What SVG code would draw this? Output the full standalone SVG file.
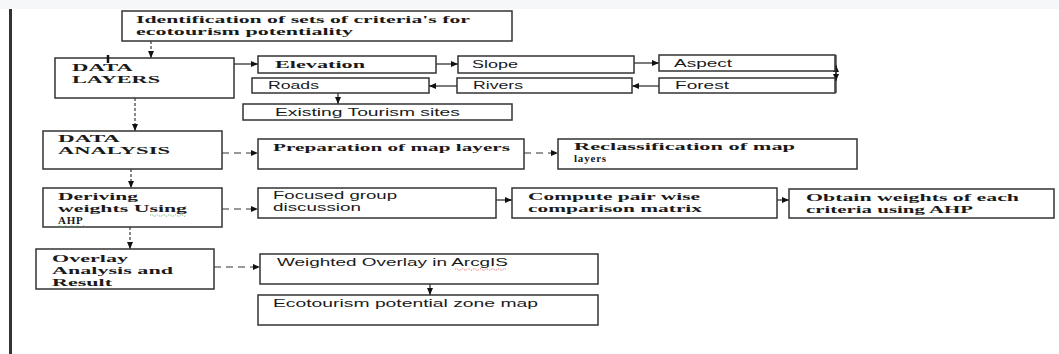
<svg xmlns="http://www.w3.org/2000/svg" width="1059" height="354" viewBox="0 0 1059 354">
<style>
.box{fill:#fff;stroke:#333;stroke-width:1.5}
.sr{font-family:"Liberation Serif",serif;font-weight:bold;font-size:11px;fill:#1a1a1a}
.ss{font-family:"Liberation Sans",sans-serif;font-size:10.5px;fill:#1a1a1a}
.c{fill:none;stroke:#222;stroke-width:1.2}
.d{fill:none;stroke:#555;stroke-width:1.4;stroke-dasharray:3 2}
.h{fill:none;stroke:#333;stroke-width:1.2;stroke-dasharray:7 5}
</style>
<defs>
<marker id="a" markerUnits="userSpaceOnUse" markerWidth="8" markerHeight="7" refX="7" refY="3" orient="auto"><path d="M0,0 L7,3 L0,6 z" fill="#111"/></marker>
</defs>
<rect x="0" y="0" width="1059" height="9" fill="#f6f7f9"/>
<rect x="0" y="9" width="1059" height="345" fill="#fff"/>
<line x1="10.5" y1="9" x2="10.5" y2="354" stroke="#333" stroke-width="3"/>

<g id="connectors">
<path class="d" d="M151,41 V58" marker-end="url(#a)"/>
<path class="c" d="M234,64 H258" marker-end="url(#a)"/>
<path class="c" d="M436,64 H458" marker-end="url(#a)"/>
<path class="c" d="M634,63 H659" marker-end="url(#a)"/>
<path class="c" d="M836,93 V65" marker-end="url(#a)"/>
<path class="c" d="M836,55 V81" marker-end="url(#a)"/>
<path class="c" d="M659,86 H632" marker-end="url(#a)"/>
<path class="c" d="M457,86 H429" marker-end="url(#a)"/>
<path class="c" d="M338,93 V104" marker-end="url(#a)"/>
<path class="d" d="M135,98 V131" marker-end="url(#a)"/>
<path class="h" d="M222,153 H258" marker-end="url(#a)"/>
<path class="h" d="M524,153 H558" marker-end="url(#a)"/>
<path class="d" d="M131,169 V188" marker-end="url(#a)"/>
<path class="h" d="M222,209 H258" marker-end="url(#a)"/>
<path class="c" d="M496,200 H512" marker-end="url(#a)"/>
<path class="c" d="M777,200 H789" marker-end="url(#a)"/>
<path class="d" d="M130,227 V249" marker-end="url(#a)"/>
<path class="h" d="M214,267 H260" marker-end="url(#a)"/>
<path class="c" d="M430,284 V295" marker-end="url(#a)"/>
</g>

<g id="criteria">
<rect class="box" x="122" y="11" width="390" height="30"/>
<text class="sr" x="136" y="23" textLength="334" lengthAdjust="spacingAndGlyphs">Identification of sets of criteria's for</text>
<text class="sr" x="136" y="35" textLength="217" lengthAdjust="spacingAndGlyphs">ecotourism potentiality</text>
</g>

<g id="data-layers">
<rect class="box" x="55" y="58" width="179" height="40"/>
<line x1="108" y1="55" x2="108" y2="63" stroke="#111" stroke-width="2.5"/>
<text class="sr" x="72" y="71" textLength="61" lengthAdjust="spacingAndGlyphs">DATA</text>
<text class="sr" x="72" y="83" textLength="88" lengthAdjust="spacingAndGlyphs">LAYERS</text>
</g>

<g id="elevation">
<rect class="box" x="258" y="56" width="178" height="17"/>
<text class="sr" x="275" y="68" textLength="90" lengthAdjust="spacingAndGlyphs">Elevation</text>
</g>
<g id="slope">
<rect class="box" x="458" y="56" width="176" height="17"/>
<text class="ss" x="472" y="68" textLength="46" lengthAdjust="spacingAndGlyphs">Slope</text>
</g>
<g id="aspect">
<rect class="box" x="659" y="55" width="176" height="16"/>
<text class="ss" x="674" y="67" textLength="58" lengthAdjust="spacingAndGlyphs">Aspect</text>
</g>
<g id="forest">
<rect class="box" x="659" y="78" width="176" height="15"/>
<text class="ss" x="675" y="89" textLength="54" lengthAdjust="spacingAndGlyphs">Forest</text>
</g>
<g id="rivers">
<rect class="box" x="457" y="78" width="175" height="15"/>
<text class="ss" x="473" y="89" textLength="50" lengthAdjust="spacingAndGlyphs">Rivers</text>
</g>
<g id="roads">
<rect class="box" x="252" y="78" width="177" height="15"/>
<text class="ss" x="268" y="89" textLength="51" lengthAdjust="spacingAndGlyphs">Roads</text>
</g>
<g id="existing-sites">
<rect class="box" x="243" y="104" width="269" height="16"/>
<text class="ss" x="275" y="116" textLength="185" lengthAdjust="spacingAndGlyphs">Existing Tourism sites</text>
</g>

<g id="data-analysis">
<rect class="box" x="43" y="131" width="179" height="38"/>
<text class="sr" x="58" y="142" textLength="62" lengthAdjust="spacingAndGlyphs">DATA</text>
<text class="sr" x="58" y="154" textLength="112" lengthAdjust="spacingAndGlyphs">ANALYSIS</text>
</g>
<g id="preparation">
<rect class="box" x="258" y="139" width="266" height="30"/>
<text class="sr" x="273" y="151" textLength="237" lengthAdjust="spacingAndGlyphs">Preparation of map layers</text>
</g>
<g id="reclassification">
<rect class="box" x="558" y="139" width="299" height="30"/>
<text class="sr" x="574" y="150" textLength="221" lengthAdjust="spacingAndGlyphs">Reclassification of map</text>
<text class="sr" x="574" y="162" letter-spacing="0.8">layers</text>
</g>

<g id="deriving-weights">
<rect class="box" x="43" y="188" width="179" height="39"/>
<text class="sr" x="58" y="200" textLength="80" lengthAdjust="spacingAndGlyphs">Deriving</text>
<text class="sr" x="58" y="212" textLength="129" lengthAdjust="spacingAndGlyphs">weights Using</text>
<text class="sr" x="58" y="224" letter-spacing="0.8">AHP</text>
<path d="M150,215.5 q1.5,-1.5 3,0 t3,0 t3,0 t3,0 t3,0 t3,0 t3,0 t3,0 t3,0 t3,0 t3,0 t3,0" fill="none" stroke="#3a9a3a" stroke-width="0.8" stroke-dasharray="1 1"/>
<path d="M58,226.5 q1.5,-1.5 3,0 t3,0 t3,0 t3,0 t3,0 t3,0 t3,0 t3,0 t3,0" fill="none" stroke="#3a9a3a" stroke-width="0.8" stroke-dasharray="1 1"/>
</g>
<g id="focused-group">
<rect class="box" x="258" y="188" width="238" height="30"/>
<text class="ss" x="273" y="199" textLength="124" lengthAdjust="spacingAndGlyphs">Focused group</text>
<text class="ss" x="273" y="211" textLength="88" lengthAdjust="spacingAndGlyphs">discussion</text>
</g>
<g id="pairwise">
<rect class="box" x="512" y="188" width="265" height="30"/>
<text class="sr" x="528" y="200" textLength="172" lengthAdjust="spacingAndGlyphs">Compute pair wise</text>
<text class="sr" x="528" y="212" textLength="174" lengthAdjust="spacingAndGlyphs">comparison matrix</text>
</g>
<g id="obtain-weights">
<rect class="box" x="789" y="189" width="265" height="29"/>
<text class="sr" x="806" y="201" textLength="213" lengthAdjust="spacingAndGlyphs">Obtain weights of each</text>
<text class="sr" x="806" y="213" textLength="167" lengthAdjust="spacingAndGlyphs">criteria using AHP</text>
</g>

<g id="overlay-analysis">
<rect class="box" x="36" y="249" width="178" height="40"/>
<text class="sr" x="52" y="262" textLength="76" lengthAdjust="spacingAndGlyphs">Overlay</text>
<text class="sr" x="52" y="274" textLength="121" lengthAdjust="spacingAndGlyphs">Analysis and</text>
<text class="sr" x="52" y="286" textLength="60" lengthAdjust="spacingAndGlyphs">Result</text>
</g>
<g id="weighted-overlay">
<rect class="box" x="260" y="254" width="338" height="30"/>
<text class="ss" x="277" y="266" textLength="231" lengthAdjust="spacingAndGlyphs">Weighted Overlay in ArcgIS</text>
<path d="M455,269.5 q1.5,-1.5 3,0 t3,0 t3,0 t3,0 t3,0 t3,0 t3,0 t3,0 t3,0 t3,0 t3,0 t3,0 t3,0 t3,0 t3,0 t3,0 t3,0" fill="none" stroke="#e03030" stroke-width="0.8" stroke-dasharray="1 1"/>
</g>
<g id="zone-map">
<rect class="box" x="258" y="295" width="340" height="30"/>
<text class="ss" x="273" y="307" textLength="265" lengthAdjust="spacingAndGlyphs">Ecotourism potential zone map</text>
</g>
</svg>
